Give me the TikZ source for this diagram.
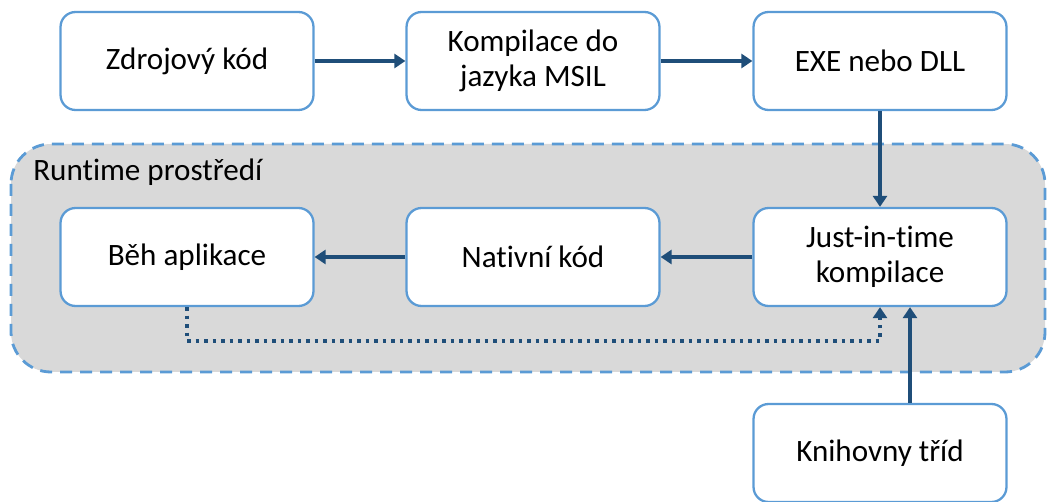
\documentclass[tikz,border=0pt]{standalone}
\usepackage{fontspec}
\setmainfont[Ligatures=NoCommon]{Carlito}
\usetikzlibrary{arrows.meta}
\definecolor{boxline}{HTML}{5B9BD5}
\definecolor{arrowc}{HTML}{1F4E79}
\definecolor{envfill}{HTML}{D9D9D9}
\begin{document}
\begin{tikzpicture}[x=0.02cm,y=-0.02cm,
  stepbox/.style={draw=boxline, line width=1.3pt, fill=white, rounded corners=0.3cm,
    minimum width=5.06cm, minimum height=1.96cm, align=center, inner sep=0pt,
    font=\fontsize{17.7}{19.8}\selectfont},
  flow/.style={draw=arrowc, line width=2.2pt, -{Triangle[length=0.22cm,width=0.28cm]}},
  feedback/.style={draw=arrowc, line width=2.2pt, dash pattern=on 0.07cm off 0.1cm,
    -{Triangle[length=0.22cm,width=0.28cm]}},
  envbox/.style={draw=boxline, line width=1.6pt, fill=envfill, rounded corners=0.8cm,
    dash pattern=on 0.24cm off 0.16cm}]
\useasboundingbox (0,0) rectangle (1047,502);
% runtime environment
\path[envbox] (11,144) rectangle (1045,372);
\node[anchor=west, inner sep=0pt, font=\fontsize{17.7}{19.8}\selectfont] (envlabel) at (33,172) {Runtime prostředí};
% top row
\node[stepbox] (src) at (187,61) {Zdrojový kód};
\node[stepbox] (msil) at (533,61) {Kompilace do\\jazyka MSIL};
\node[stepbox] (exe) at (880,61) {EXE nebo DLL};
% runtime row
\node[stepbox] (run) at (187,257) {Běh aplikace};
\node[stepbox] (native) at (533,257) {Nativní kód};
\node[stepbox] (jit) at (880,257) {Just-in-time\\kompilace};
% class libraries
\node[stepbox] (lib) at (880,453) {Knihovny tříd};
% connectors
\draw[flow] (src) -- (msil);
\draw[flow] (msil) -- (exe);
\draw[flow] (exe) -- (jit);
\draw[flow] (jit) -- (native);
\draw[flow] (native) -- (run);
\draw[flow] (lib.north -| 910,0) -- (jit.south -| 910,0);
\coordinate (fbA) at (187,341);
\coordinate (fbB) at (880,341);
\draw[feedback] (run.south) -- (fbA) -- (fbB) -- (jit.south);
\end{tikzpicture}
\end{document}
